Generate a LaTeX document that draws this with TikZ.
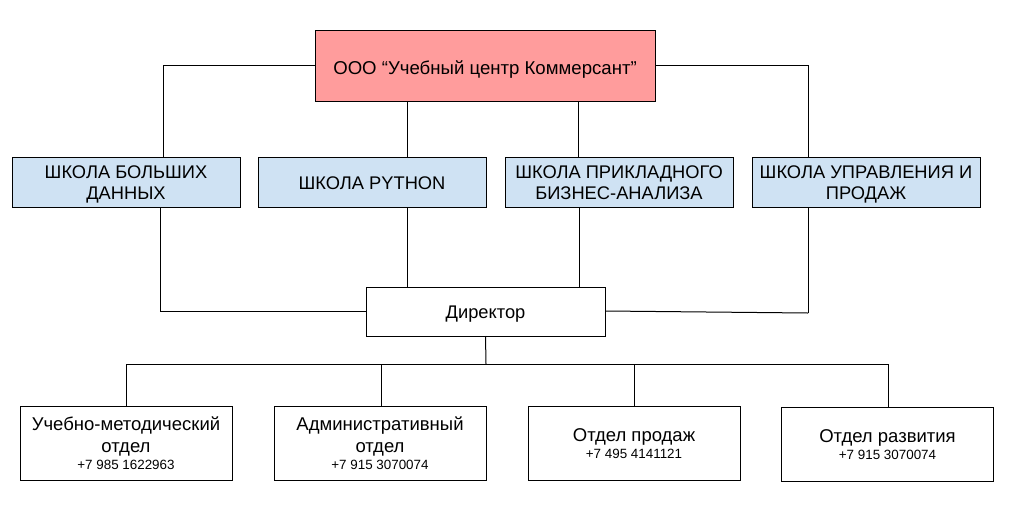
\documentclass[tikz,border=0pt]{standalone}
\usepackage{fontspec}
\setmainfont{Liberation Sans}
\definecolor{topred}{RGB}{255,156,156}
\definecolor{schoolblue}{RGB}{207,226,243}
\newcommand{\shiftlbl}[2]{\raisebox{#1}[\height][\depth]{\begin{tabular}{@{}c@{}}#2\end{tabular}}}
\newcommand{\phonetxt}[1]{{\fontsize{13.4}{15}\selectfont #1}}
\begin{document}
\begin{tikzpicture}[x=1pt,y=-1pt,
  line width=1pt,
  box/.style={draw=black, line width=1pt, inner sep=0pt},
  topbox/.style={box, fill=topred, minimum width=340pt, minimum height=71pt, font=\fontsize{18.6}{22}\selectfont},
  schoolbox/.style={box, fill=schoolblue, minimum width=228pt, minimum height=50pt, font=\fontsize{18.3}{21}\selectfont},
  dirbox/.style={box, fill=white, minimum width=239pt, minimum height=49pt, font=\fontsize{18.3}{22}\selectfont},
  deptbox/.style={box, fill=white, minimum width=212pt, minimum height=74pt, font=\fontsize{18.5}{22}\selectfont},
  link/.style={draw=black, line width=1pt}
]
\useasboundingbox (0,0) rectangle (1024,506);
\fill[white] (0,0) rectangle (1024,506);

\node[topbox] (top) at (485,65.5) {\shiftlbl{-5pt}{ООО “Учебный центр Коммерсант”}};

\node[schoolbox] (s1) at (126,182) {\shiftlbl{-3pt}{ШКОЛА БОЛЬШИХ\\ДАННЫХ}};
\node[schoolbox] (s2) at (372,182) {\shiftlbl{-3pt}{ШКОЛА PYTHON}};
\node[schoolbox] (s3) at (619,182) {\shiftlbl{-3pt}{ШКОЛА ПРИКЛАДНОГО\\БИЗНЕС-АНАЛИЗА}};
\node[schoolbox] (s4) at (866,182) {\shiftlbl{-3pt}{ШКОЛА УПРАВЛЕНИЯ И\\ПРОДАЖ}};

\node[dirbox] (dir) at (485.5,311.5) {\shiftlbl{-3pt}{Директор}};

\node[deptbox] (d1) at (126,443) {\shiftlbl{-3pt}{Учебно-методический\\отдел\\[-5pt]\phonetxt{+7 985 1622963}}};
\node[deptbox] (d2) at (380,443) {\shiftlbl{-3pt}{Административный\\отдел\\[-5pt]\phonetxt{+7 915 3070074}}};
\node[deptbox] (d3) at (634,443) {\shiftlbl{-3pt}{Отдел продаж\\[-5pt]\phonetxt{+7 495 4141121}}};
\node[deptbox] (d4) at (887.5,444) {\shiftlbl{-3pt}{Отдел развития\\[-5pt]\phonetxt{+7 915 3070074}}};

\coordinate (hubL) at (126,364);
\coordinate (hubR) at (889,364);
\coordinate (hubD) at (486,364);
\coordinate (r4) at (808,313);

% top to schools
\draw[link] (top.west |- 0,65) -| (163,157);
\draw[link] (top.east |- 0,65) -| (808,157);
\draw[link] (407,101) -- (407,157);
\draw[link] (578,101) -- (578,157);

% schools to director
\draw[link] (160,207) |- (dir.west |- 0,311);
\draw[link] (407,207) -- (407,287);
\draw[link] (579,207) -- (579,287);
\draw[link] (808,207) -- (r4);
\draw[link] (dir.east |- 0,311) -- (r4);

% director to departments
\draw[link] (dir.south |- 0,336) -- (hubD);
\draw[link] (hubL) -- (hubR);
\draw[link] (hubL) -- (d1.north);
\draw[link] (381,364) -- (381,406);
\draw[link] (634,364) -- (d3.north);
\draw[link] (888,364) -- (888,407);
\end{tikzpicture}
\end{document}
